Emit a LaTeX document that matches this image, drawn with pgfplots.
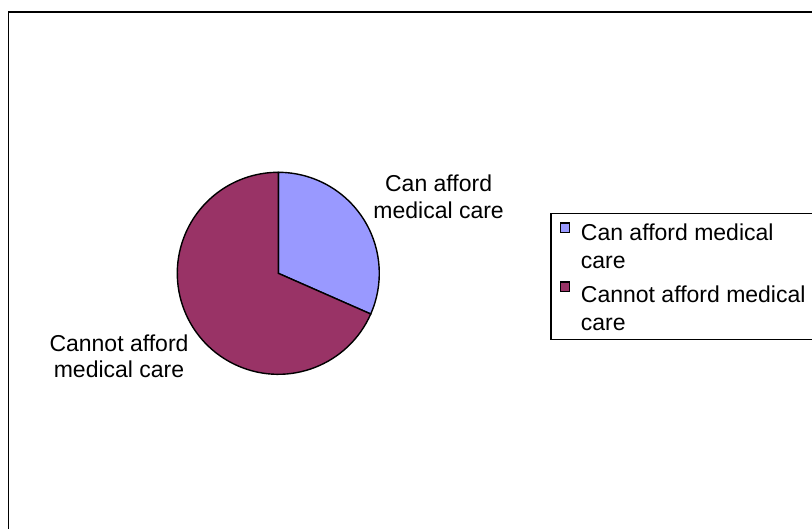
\documentclass[border=0pt]{standalone}
\usepackage{fontspec}
\setmainfont{Liberation Sans}
\usepackage{pgfplots}
\usepackage{pgfplotstable}
\pgfplotsset{compat=1.18}
\definecolor{cancol}{HTML}{9999FF}
\definecolor{cannotcol}{HTML}{993366}
\pgfplotstableread{
label value
Can 31.6
Cannot 68.4
}\piedata
\newcommand{\strutA}{\rule{0pt}{8.5bp}}
\newcommand{\strutB}{\rule{0pt}{11.5bp}}
\begin{document}
\begin{tikzpicture}[font=\fontsize{11.5bp}{13bp}\selectfont]
\useasboundingbox (0,0) rectangle (406bp,-264.5bp);
\draw[line width=0.65bp] (4.35bp,-280bp) |- (430bp,-6bp);
\pgfplotstablegetelem{0}{value}\of\piedata
\pgfmathsetmacro\va{\pgfplotsretval}
\pgfmathsetmacro\aone{90-3.6*\va}
\pgfmathsetmacro\cx{cos(\aone)}
\pgfmathsetmacro\cy{sin(\aone)}
\begin{axis}[
  at={(139.15bp,-136.65bp)}, anchor=center,
  scale only axis, width=101bp, height=101bp,
  xmin=-1, xmax=1, ymin=-1, ymax=1,
  hide axis, clip=false,
  legend cell align=left,
  legend style={at={(axis description cs:1.8475,0.801)}, anchor=north west,
    draw=black, line width=0.65bp, inner xsep=4.25bp, inner ysep=4.6bp,
    row sep=5.5bp, column sep=5.3bp,
    font=\fontsize{11.5bp}{13bp}\selectfont,
    nodes={inner sep=0pt, text depth=0pt}},
  legend image code/.code={\draw[#1, line width=0.75bp] (0bp,-0.1bp) rectangle (4.6bp,4.5bp);},
]
\fill[cancol, draw=black, line width=0.7bp] (axis cs:0,0) -- (axis cs:0,1) arc[start angle=90, end angle=\aone, radius=50.5bp] -- cycle;
\fill[cannotcol, draw=black, line width=0.7bp] (axis cs:0,0) -- (axis cs:\cx,\cy) arc[start angle=\aone, end angle=-270, radius=50.5bp] -- cycle;
\addlegendimage{fill=cancol, draw=black}
\addlegendentry{\strutA Can afford medical\rule{60bp}{0pt}}
\addlegendimage{empty legend}
\addlegendentry{\strutA care}
\addlegendimage{fill=cannotcol, draw=black}
\addlegendentry{\strutB Cannot afford medical}
\addlegendimage{empty legend}
\addlegendentry{\strutA care}
\end{axis}
\node[anchor=base, inner sep=0pt] at (219.3bp,-95.5bp) {Can afford};
\node[anchor=base, inner sep=0pt] at (219.3bp,-109bp) {medical care};
\node[anchor=base, inner sep=0pt] at (59.5bp,-175.5bp) {Cannot afford};
\node[anchor=base, inner sep=0pt] at (59.5bp,-188.75bp) {medical care};
\end{tikzpicture}
\end{document}
